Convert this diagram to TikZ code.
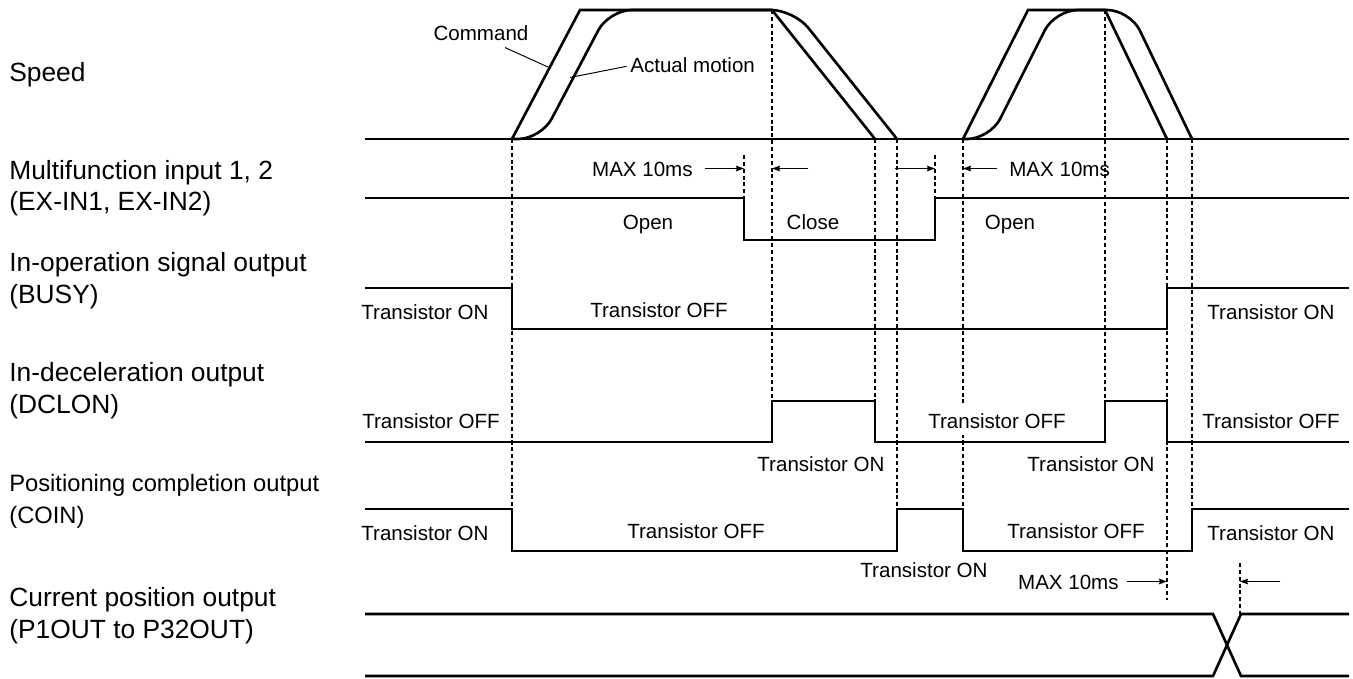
\documentclass[tikz,border=0pt]{standalone}
\usepackage{fontspec}
\setmainfont{Liberation Sans}
\usetikzlibrary{arrows.meta}
\newcommand{\rowfont}{\fontsize{15}{18.1}\selectfont}
\newcommand{\coinfont}{\fontsize{13.5}{18.1}\selectfont}
\newcommand{\tagfont}{\fontsize{11.7}{14}\selectfont}

\begin{document}
\begin{tikzpicture}[x=0.02cm,y=-0.02cm,
  sig/.style={line width=1.5pt},
  guide/.style={line width=0.6pt,dash pattern=on 2.3pt off 1.6pt},
  lead/.style={line width=0.55pt},
  dimarr/.style={line width=0.6pt,-{Stealth[length=4.6pt,width=3.2pt,inset=0.6pt]}},
  rowlbl/.style={anchor=base west,align=left,inner sep=0pt,font=\rowfont},
  tag/.style={anchor=base,inner sep=0pt,font=\tagfont}]
  \useasboundingbox (0,0) rectangle (1353,679);

  \draw[guide] (512,139) -- (512,509);
  \draw[guide] (744,155) -- (744,198);
  \draw[guide] (772,10) -- (772,401);
  \draw[guide] (875,139) -- (875,401);
  \draw[guide] (897,139) -- (897,509);
  \draw[guide] (935,155) -- (935,198);
  \draw[guide] (963,139) -- (963,509);
  \draw[guide] (1105,10) -- (1105,401);
  \draw[guide] (1167,139) -- (1167,600);
  \draw[guide] (1192,139) -- (1192,509);
  \draw[guide] (1240,563) -- (1240,614);

  \draw[sig] (365,139) -- (1349,139);
  \draw[sig] (512,139) -- (580,10) -- (772,10) -- (875,139);
  \draw[sig,rounded corners=13pt] (512,139) -- (541,139) -- (609,10) -- (794,10) -- (897,139);
  \draw[sig] (963,139) -- (1028,10) -- (1105,10) -- (1167,139);
  \draw[sig,rounded corners=13pt] (963,139) -- (990,139) -- (1055,10) -- (1130,10) -- (1192,139);

  \draw[sig] (365,198) -- (744,198) -- (744,240) -- (935,240) -- (935,198) -- (1349,198);
  \draw[sig] (365,288) -- (512,288) -- (512,329) -- (1167,329) -- (1167,288) -- (1349,288);
  \draw[sig] (365,442) -- (772,442) -- (772,401) -- (875,401) -- (875,442) -- (1105,442)
    -- (1105,401) -- (1167,401) -- (1167,442) -- (1349,442);
  \draw[sig] (365,509) -- (512,509) -- (512,551) -- (897,551) -- (897,509) -- (963,509)
    -- (963,551) -- (1192,551) -- (1192,509) -- (1349,509);
  \draw[sig] (365,614) -- (1213,614) -- (1241,676) -- (1349,676);
  \draw[sig] (365,676) -- (1213,676) -- (1241,614) -- (1349,614);

  \node[rowlbl] (lspeed) at (9,82) {Speed};
  \node[rowlbl] (lmulti) at (9,211) {Multifunction input 1, 2\\(EX-IN1, EX-IN2)};
  \node[rowlbl] (lbusy) at (9,303) {In-operation signal output\\(BUSY)};
  \node[rowlbl] (ldclon) at (9,413) {In-deceleration output\\(DCLON)};
  \node[rowlbl,font=\coinfont] (lcoin) at (9,523) {Positioning completion output\\(COIN)};
  \node[rowlbl] (lpos) at (9,638) {Current position output\\(P1OUT to P32OUT)};

  \node[tag] (cmd) at (481,41) {Command};
  \node[tag,anchor=base west] (act) at (630,73) {Actual motion};
  \coordinate (cmdpt) at (548,67);
  \coordinate (actpt) at (570,77.5);
  \draw[lead] ([shift={(24,6)}]cmd.south) -- (cmdpt);
  \draw[lead,shorten <=2pt] (act.west) -- (actpt);

  \node[tag,anchor=base east] (max1) at (693,176) {MAX 10ms};
  \draw[dimarr] (705,168.5) -- (744,168.5);
  \draw[dimarr] (808,168.5) -- (772,168.5);
  \draw[dimarr] (895,168.5) -- (935,168.5);
  \draw[dimarr] (997,168.5) -- (963,168.5);
  \node[tag,anchor=base west] (max2) at (1009,176) {MAX 10ms};
  \node[tag,anchor=base east] (max3) at (1119,589) {MAX 10ms};
  \draw[dimarr] (1127,581.5) -- (1167,581.5);
  \draw[dimarr] (1280,581.5) -- (1240,581.5);

  \node[tag] (open1) at (648,229) {Open};
  \node[tag] (close) at (813,229) {Close};
  \node[tag] (open2) at (1010,229) {Open};
  \node[tag] (busyon1) at (425,319) {Transistor ON};
  \node[tag] (busyoff) at (659,317) {Transistor OFF};
  \node[tag] (busyon2) at (1271,319) {Transistor ON};
  \node[tag] (dcloff1) at (431,428) {Transistor OFF};
  \node[tag] (dclon1) at (821,471) {Transistor ON};
  \node[tag,fill=white,inner sep=4pt] (dcloff2) at (997,428) {Transistor OFF};
  \node[tag] (dclon2) at (1091,471) {Transistor ON};
  \node[tag] (dcloff3) at (1271,428) {Transistor OFF};
  \node[tag] (coinon1) at (425,540) {Transistor ON};
  \node[tag] (coinoff1) at (696,538) {Transistor OFF};
  \node[tag] (coinon2) at (924,577) {Transistor ON};
  \node[tag] (coinoff2) at (1076,538) {Transistor OFF};
  \node[tag] (coinon3) at (1271,540) {Transistor ON};
\end{tikzpicture}
\end{document}
